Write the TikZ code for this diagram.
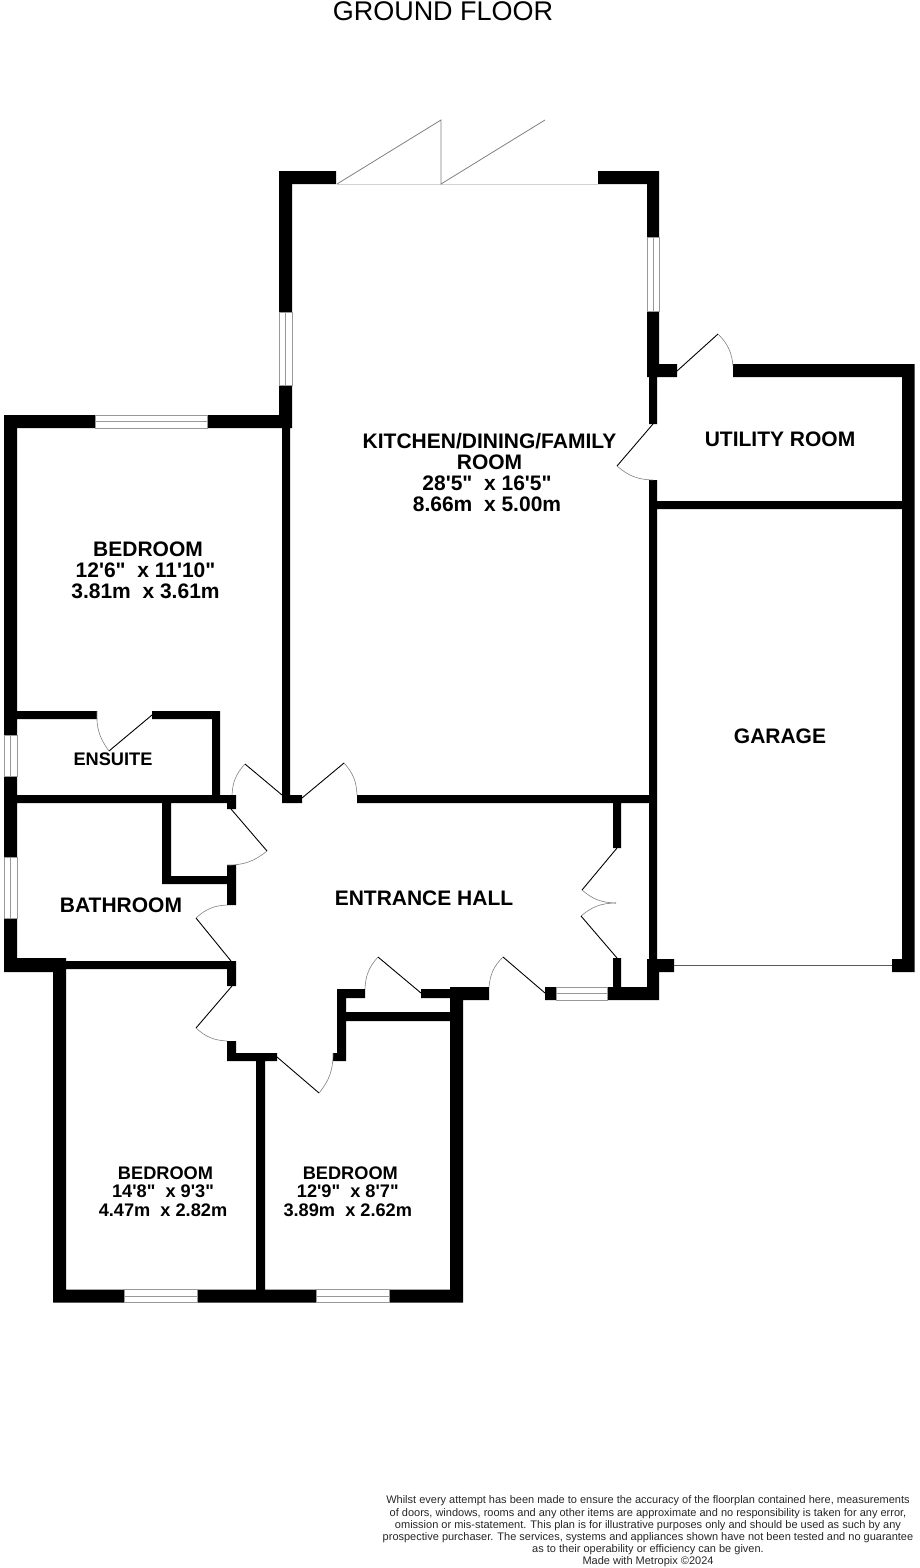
\documentclass[tikz,border=0pt]{standalone}
\usepackage{fontspec}
\newfontfamily\planfont{Liberation Sans}
\newcommand{\roomname}[1]{\hspace*{5pt}#1}
\tikzset{
	wall/.style={fill=black},
	window/.style={draw=gray!80, fill=white, line width=0.7pt},
	leaf/.style={draw=black, line width=0.9pt},
	swing/.style={draw=gray, line width=0.6pt},
	foldleaf/.style={draw=gray, line width=0.8pt},
	garagedoor/.style={draw=black!65, line width=1.1pt},
	sill/.style={draw=gray!35, line width=0.5pt},
	roomlarge/.style={font=\planfont\bfseries\fontsize{21}{21}\selectfont, align=center, inner sep=0pt},
	roomsmall/.style={font=\planfont\bfseries\fontsize{18.2}{18.5}\selectfont, align=center, inner sep=0pt}
}
\begin{document}
\begin{tikzpicture}[x=1pt,y=-1pt]
		\useasboundingbox (0,0) rectangle (920,1568);
		\node[font=\planfont\fontsize{27}{27}\selectfont, inner sep=0pt] (title) at (443,11) {GROUND FLOOR};

		\fill[wall]
		(279,171) rectangle (336,184)
		(598,171) rectangle (659,184)
		(279,171) rectangle (292,428)
		(647,171) rectangle (659,377)
		(647,364) rectangle (677,377)
		(733,364) rectangle (914.5,377)
		(902,364) rectangle (914.5,972)
		(649,377) rectangle (657,424)
		(649,480) rectangle (657,1000)
		(657,501) rectangle (902,509)
		(4,415) rectangle (292,428)
		(4,415) rectangle (17,972)
		(17,711) rectangle (97,719)
		(152,711) rectangle (220,719)
		(212,711) rectangle (220,803)
		(17,795) rectangle (236,803)
		(227,795) rectangle (236,809)
		(162,803) rectangle (171,884)
		(162,876) rectangle (236,884)
		(227,865) rectangle (236,905)
		(4,958) rectangle (66,972)
		(53,958) rectangle (66,1302.5)
		(66,961) rectangle (236,969)
		(227,961) rectangle (236,986)
		(227,1041) rectangle (236,1061)
		(227,1053) rectangle (277,1061)
		(256,1053) rectangle (265,1302.5)
		(333,1053) rectangle (346,1061)
		(337,989) rectangle (346,1061)
		(337,989) rectangle (365,998)
		(421,989) rectangle (463,998)
		(450,987) rectangle (489,1000)
		(450,987) rectangle (463,1302.5)
		(346,1012) rectangle (450,1021)
		(53,1289.5) rectangle (463,1302.5)
		(282,428) rectangle (290,803)
		(282,795) rectangle (302,803)
		(357,795) rectangle (657,803)
		(613,803) rectangle (621,848)
		(613,958) rectangle (621,1000)
		(545,987) rectangle (556,1000)
		(607,987) rectangle (659,1000)
		(647,959) rectangle (659,1000)
		(647,959) rectangle (674,972)
		(892,959) rectangle (914.5,972);

		\draw[window] (647,237) rectangle (659,311);
		\draw[window] (653,237) -- (653,311);
		\draw[window] (279,312) rectangle (292,385);
		\draw[window] (285.5,312) -- (285.5,385);
		\draw[window] (95,415) rectangle (207,428);
		\draw[window] (95,421.5) -- (207,421.5);
		\draw[window] (4,735) rectangle (17,776);
		\draw[window] (10.5,735) -- (10.5,776);
		\draw[window] (4,857) rectangle (17,918);
		\draw[window] (10.5,857) -- (10.5,918);
		\draw[window] (124,1289.5) rectangle (197,1302.5);
		\draw[window] (124,1296) -- (197,1296);
		\draw[window] (316,1289.5) rectangle (389,1302.5);
		\draw[window] (316,1296) -- (389,1296);
		\draw[window] (556,987) rectangle (607,1000);
		\draw[window] (556,993.5) -- (607,993.5);

		\draw[sill] (337,184) -- (598,184);
		\draw[foldleaf] (337,184) -- (441,120) -- (441,184) -- (545,120);
		\draw[garagedoor] (674,965.5) -- (892,965.5);

		\draw[leaf] (653,424) -- (617,466);
		\draw[swing] (617,466) to[bend right=20] (653,480);
		\draw[leaf] (677,371) -- (718,334);
		\draw[swing] (718,334) to[bend left=20] (733,366);
		\draw[leaf] (152,715) -- (109,751);
		\draw[swing] (97,711) to[bend right=20] (109,751);
		\draw[leaf] (282,795) -- (245,764);
		\draw[swing] (232,795) to[bend left=20] (245,764);
		\draw[leaf] (302,798) -- (344,763);
		\draw[swing] (344,763) to[bend left=20] (357,795);
		\draw[leaf] (231,809) -- (267,851);
		\draw[swing] (267,851) to[bend left=20] (227,865);
		\draw[leaf] (231,961) -- (196,918);
		\draw[swing] (227,905) to[bend right=20] (196,918);
		\draw[leaf] (232,986) -- (196,1028);
		\draw[swing] (196,1028) to[bend right=20] (227,1041);
		\draw[leaf] (277,1057) -- (319,1093);
		\draw[swing] (319,1093) to[bend right=20] (333,1053);
		\draw[leaf] (421,993) -- (378,957);
		\draw[swing] (365,989) to[bend left=20] (378,957);
		\draw[leaf] (545,993) -- (503,957);
		\draw[swing] (503,957) to[bend right=20] (489,987);
		\draw[leaf] (617,848) -- (582,890);
		\draw[swing] (582,890) to[bend right=20] (616,903);
		\draw[swing] (616,903) to[bend right=20] (581,916);
		\draw[leaf] (581,916) -- (617,958);

		\node[roomlarge] (kitchen) at (487,472.5) {\roomname{KITCHEN/DINING/FAMILY}\\\roomname{ROOM}\\28'5"~ x 16'5"\\8.66m~ x 5.00m};
		\node[roomlarge] (utility) at (780,439) {UTILITY ROOM};
		\node[roomlarge] (garage) at (780,736) {GARAGE};
		\node[roomlarge] (bedroomone) at (145.5,570) {\roomname{BEDROOM}\\12'6"~ x 11'10"\\3.81m~ x 3.61m};
		\node[roomsmall] (ensuite) at (113,759) {ENSUITE};
		\node[roomlarge] (bathroom) at (121,905) {BATHROOM};
		\node[roomlarge] (hall) at (424,898) {ENTRANCE HALL};
		\node[roomsmall] (bedroomtwo) at (163,1191.5) {\roomname{BEDROOM}\\14'8"~ x 9'3"\\4.47m~ x 2.82m};
		\node[roomsmall] (bedroomthree) at (347.8,1191.5) {\roomname{BEDROOM}\\12'9"~ x 8'7"\\3.89m~ x 2.62m};

		\node[font=\planfont\fontsize{11}{12.2}\selectfont, align=center, inner sep=0pt, text=black!85] (note) at (648,1531.5) {Whilst every attempt has been made to ensure the accuracy of the floorplan contained here, measurements\\of doors, windows, rooms and any other items are approximate and no responsibility is taken for any error,\\omission or mis-statement. This plan is for illustrative purposes only and should be used as such by any\\prospective purchaser. The services, systems and appliances shown have not been tested and no guarantee\\as to their operability or efficiency can be given.\\Made with Metropix \textcopyright 2024};
		\end{tikzpicture}
\end{document}
